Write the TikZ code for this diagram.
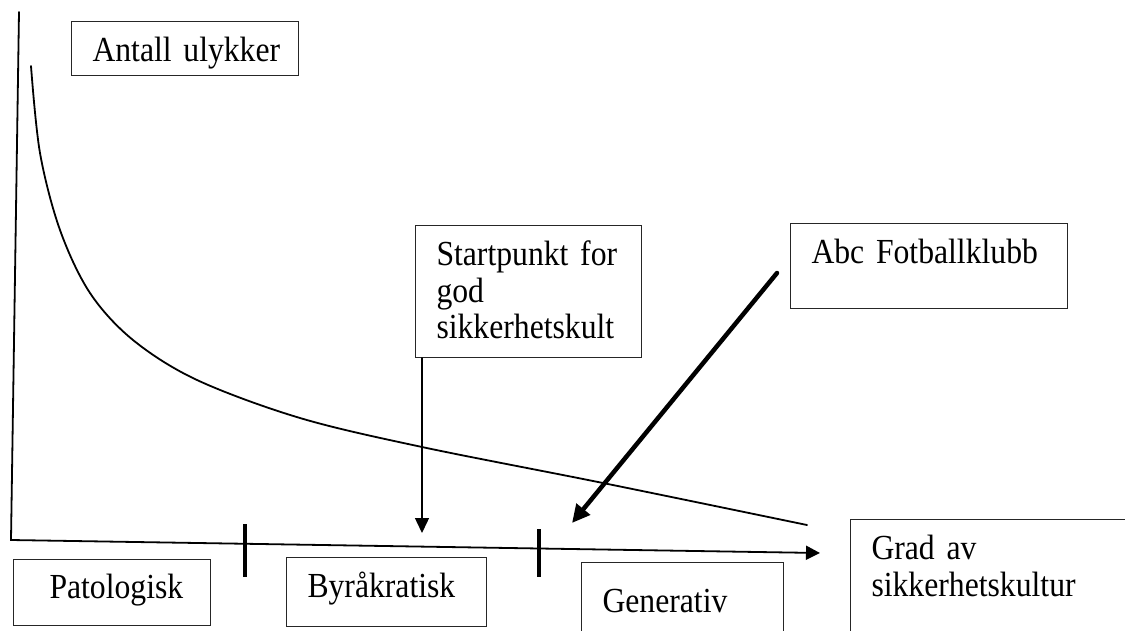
\documentclass[tikz,border=0pt]{standalone}
\usepackage{fontspec}
\setmainfont{Liberation Serif}[FakeStretch=0.9, WordSpace=0.85]
\usetikzlibrary{arrows.meta}

\begin{document}
\begin{tikzpicture}[x=1pt, y=-1pt, line cap=round,
    font=\fontsize{35.2}{36.5}\selectfont,
    boks/.style={draw=black!85, line width=1pt, anchor=north west, inner sep=0pt,
      align=left, text height=40pt, execute at begin node={\leftskip=21pt}},
    pil/.style={-{Triangle[length=15pt, width=14pt]}, line width=1.4pt},
    strek/.style={line width=4pt, line cap=butt}]
  \useasboundingbox (0,0) rectangle (1125,630);

  \node[boks, text width=227pt, text depth=14pt] (antall) at (71,21) {Antall ulykker};
  \node[boks, text width=226pt, text depth=92pt] (start) at (415,225)
    {Startpunkt for\\god\\sikkerhetskult};
  \node[boks, text width=277pt, text depth=45pt] (abc) at (790,223) {Abc Fotballklubb};
  \node[boks, text width=197pt, text height=39pt, text depth=27pt,
    execute at begin node={\leftskip=36pt}] (pato) at (13,559) {Patologisk};
  \node[boks, text width=200pt, text depth=29pt] (byra) at (286,557) {Byråkratisk};
  \node[boks, text width=202pt, text height=50pt, text depth=40pt] (gen) at (581,562) {Generativ};
  \node[boks, text width=290pt, text depth=101pt] (grad) at (850,519)
    {Grad av\\sikkerhetskultur};

  \coordinate (ytopp) at (19,12);
  \coordinate (origo) at (11,540);
  \coordinate (xende) at (820,553);
  \draw[line width=1.8pt, -{Triangle[length=14pt, width=14pt]}] (ytopp) -- (origo) -- (xende);
  \foreach \x/\a/\b in {245/524/577, 539/529/577}
    \draw[strek] (\x,\a) -- (\x,\b);

  \draw[line width=1.8pt] plot[smooth, tension=0.55] coordinates
    {(31,66) (40,153) (60,230) (90,293) (133,340) (197,380) (300,418) (422,447) (603,483) (807,525)};

  \coordinate (startpil) at (422,533);
  \draw[pil] (start.south -| startpil) -- (startpil);
  \coordinate (abchale) at (777,273);
  \coordinate (abcpil) at (572,523);
  \draw[line width=4.5pt, -{Triangle[length=18pt, width=17pt]}] (abchale) -- (abcpil);
\end{tikzpicture}
\end{document}
